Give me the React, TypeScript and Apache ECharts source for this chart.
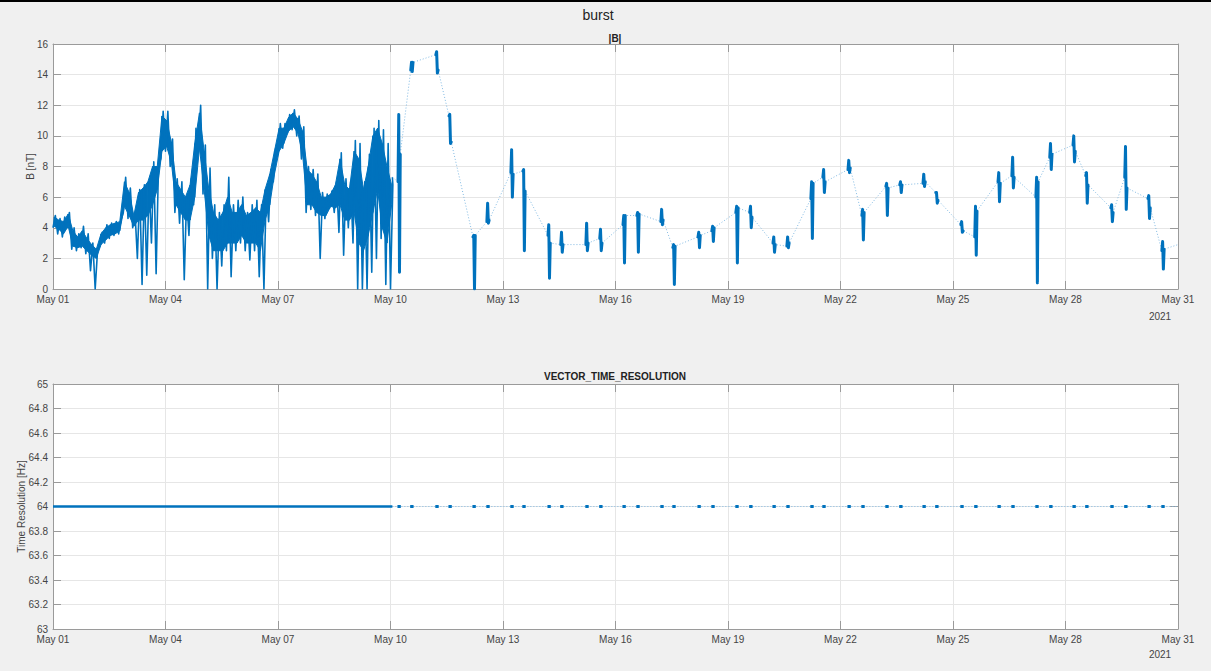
import React, { useEffect, useRef } from "react";
import * as echarts from "echarts";

// ---- Data (days of May 2021; 1.0 = May 01 00:00) ----
// Dense |B| record, May 01 00:00 to May 10 00:00, 3-hour samples [nT]
const denseStartDay = 1.0;
const denseStepDay = 0.125;
// full envelope of the noisy trace (spikes included)
const denseLow = [
  4.0, 3.6, 3.4, 4.0, 2.6, 2.5, 2.7, 2.3, 1.2, 0.0, 2.8, 3.0, 3.3, 3.5, 3.6, 5.0, 4.6, 4.0, 2.0, 0.3, 0.9, 3.0, 1.0, 8.5,
  9.0, 8.0, 5.0, 4.3, 0.6, 3.5, 5.5, 9.0, 6.2, 0.0, 2.0, 0.0, 1.5, 2.5, 0.8, 2.5, 3.0, 2.5, 1.9, 2.5, 0.8, 0.0, 4.4, 7.0, 8.8, 9.2,
  10.2, 10.4, 10.0, 8.5, 5.0, 5.2, 4.8, 2.0, 4.6, 5.3, 5.0, 3.7, 2.2, 4.0, 3.0, 0.0, 0.0, 0.0, 1.1, 2.0, 3.3, 0.3, 0.0,
];
const denseHigh = [
  4.8, 4.6, 4.7, 5.0, 4.0, 3.6, 4.1, 3.6, 3.0, 2.5, 3.7, 4.2, 4.3, 4.4, 4.5, 7.3, 6.6, 5.0, 6.5, 6.8, 7.0, 8.3, 8.0, 11.6,
  11.6, 9.8, 7.2, 7.0, 6.0, 7.2, 10.5, 12.0, 9.4, 7.9, 5.5, 5.0, 5.5, 7.3, 5.5, 5.8, 6.0, 5.0, 5.5, 5.8, 5.5, 6.5, 7.8, 9.2, 10.8, 10.8,
  11.4, 11.7, 11.3, 10.6, 8.0, 7.8, 7.5, 6.3, 6.2, 6.4, 7.0, 8.9, 7.2, 7.0, 9.7, 9.5, 7.0, 8.8, 10.5, 11.0, 10.4, 9.5, 6.8,
];
// solid core band of the trace
const coreLow = [
  4.1, 3.9, 3.6, 4.1, 2.8, 2.7, 2.8, 2.5, 2.2, 2.0, 2.9, 3.2, 3.5, 3.6, 3.8, 5.4, 4.8, 4.1, 4.5, 4.5, 4.8, 5.5, 6.5, 9.0,
  9.3, 8.3, 5.5, 5.0, 4.5, 4.5, 6.0, 9.2, 6.5, 3.5, 2.5, 2.5, 2.5, 3.0, 3.0, 3.0, 3.5, 3.0, 3.0, 3.0, 2.5, 4.5, 5.5, 7.5, 9.0, 9.5,
  10.3, 10.6, 10.2, 8.8, 5.5, 5.5, 5.0, 4.8, 4.8, 5.4, 5.3, 5.5, 4.5, 4.5, 5.0, 3.0, 2.5, 3.5, 5.0, 6.5, 4.0, 3.0, 5.5,
];
const coreHigh = [
  4.7, 4.5, 4.4, 4.9, 3.8, 3.4, 3.8, 3.3, 2.9, 2.6, 3.6, 4.0, 4.2, 4.3, 4.4, 7.0, 6.3, 4.8, 6.3, 6.6, 7.0, 8.0, 8.0, 11.3,
  11.0, 9.6, 7.0, 6.5, 6.0, 6.8, 9.5, 11.5, 9.0, 6.5, 5.0, 4.5, 5.0, 6.0, 5.0, 5.0, 5.5, 4.8, 5.0, 5.3, 5.0, 6.5, 7.5, 9.0, 10.5, 10.5,
  11.2, 11.5, 11.1, 10.3, 7.8, 7.5, 7.0, 6.0, 6.0, 6.2, 6.8, 8.5, 6.8, 6.5, 9.0, 8.5, 6.5, 8.0, 10.0, 10.5, 9.5, 8.0, 6.8,
];
const denseEndDay = 10.05;
const denseEndValue = 7.3;

// Burst segments after May 10
const burstDay = [
  10.23, 10.57, 11.24, 11.59, 12.23, 12.6, 13.24, 13.56, 14.23, 14.57, 15.24, 15.61, 16.23, 16.6, 17.24, 17.56, 18.23, 18.6, 19.24, 19.61, 20.23,
  20.6, 21.24, 21.56, 22.23, 22.6, 23.24, 23.61, 24.23, 24.57, 25.24, 25.61, 26.23, 26.6, 27.24, 27.61, 28.23, 28.57, 29.24, 29.61, 30.23, 30.6,
];
const burstLow = [
  1.1, 14.2, 14.1, 9.5, 0.0, 4.3, 6.0, 2.5, 0.7, 2.4, 2.5, 2.5, 1.7, 2.4, 4.2, 0.3, 2.7, 3.1, 1.7, 4.0, 2.4,
  2.7, 3.3, 6.3, 7.6, 3.2, 4.8, 6.3, 6.7, 5.6, 3.7, 2.2, 5.7, 6.6, 0.4, 7.8, 8.3, 5.6, 4.4, 5.2, 4.6, 1.3,
];
const burstHigh = [
  11.4, 14.8, 15.5, 11.4, 3.5, 5.6, 9.1, 7.8, 4.2, 3.7, 4.3, 3.9, 4.8, 5.0, 5.2, 2.9, 3.7, 4.1, 5.4, 5.4, 3.4,
  3.4, 7.0, 7.8, 8.4, 5.2, 6.9, 7.0, 7.5, 6.3, 4.4, 5.4, 7.6, 8.6, 7.3, 9.5, 10.0, 7.6, 5.5, 9.3, 6.1, 3.1,
];
const burstIn = [
  7.0, 14.3, 15.3, 11.3, 3.4, 4.4, 7.6, 7.7, 3.5, 2.9, 2.9, 3.3, 4.2, 4.8, 4.4, 2.7, 3.4, 3.8, 5.0, 5.0, 3.0,
  2.8, 5.9, 7.3, 7.8, 4.8, 6.7, 6.8, 6.9, 6.3, 4.2, 3.4, 7.0, 7.4, 6.0, 8.6, 9.4, 7.4, 5.3, 7.3, 5.9, 2.5,
];
const burstOut = [
  8.8, 14.8, 14.3, 9.6, 3.5, 4.5, 7.5, 6.4, 3.0, 2.9, 3.0, 3.0, 4.8, 4.9, 4.5, 2.8, 3.5, 4.0, 5.3, 4.7, 2.9,
  3.0, 6.9, 7.0, 7.9, 5.0, 6.6, 6.8, 7.0, 5.8, 3.8, 5.1, 6.9, 7.3, 7.0, 8.8, 9.0, 6.8, 5.0, 6.6, 5.3, 2.6,
];
const edgeDay = 31.0;
const edgeValue = 2.9;

// Vector time resolution [Hz]
const denseResolution = 64;
const burstResolution = [
  64, 64, 64, 64, 64, 64, 64, 64, 64, 64, 64, 64, 64, 64, 64, 64, 64, 64, 64, 64, 64,
  64, 64, 64, 64, 64, 64, 64, 64, 64, 64, 64, 64, 64, 64, 64, 64, 64, 64, 64, 64, 64,
];

// Axis ticks
const xTickLabels = ["May 01", "May 04", "May 07", "May 10", "May 13", "May 16", "May 19", "May 22", "May 25", "May 28", "May 31"];
const yearLabel = "2021";

const BLUE = "#0072BD";
const LINK = "#80b9e2";
const AXIS = "#9a9a9a";
const LABEL = "#444444";
const GRIDLINE = "#e6e6e6";
const FONT = "Liberation Sans, Arial, Helvetica, sans-serif";

const toX = (day: number) => day - 1;

export default function App() {
  const ref = useRef<HTMLDivElement>(null);
  useEffect(() => {
    if (!ref.current) return;
    const chart = echarts.init(ref.current, null, { renderer: "svg" });

    const dense: number[][] = [];
    denseLow.forEach((lo, k) => {
      const t = denseStartDay + k * denseStepDay;
      dense.push([toX(t), lo]);
      dense.push([toX(t + denseStepDay / 2), denseHigh[k]]);
    });
    dense.push([toX(denseEndDay), denseEndValue]);

    // core band quads: [x0, lo0, hi0, x1, lo1, hi1]
    const coreQuads: number[][] = [];
    for (let k = 0; k < coreLow.length - 1; k++) {
      const x0 = toX(denseStartDay + k * denseStepDay + 0.03);
      const x1 = toX(denseStartDay + (k + 1) * denseStepDay + 0.03);
      coreQuads.push([x0, coreLow[k], coreHigh[k], x1, coreLow[k + 1], coreHigh[k + 1]]);
    }

    const link: number[][] = [[toX(denseEndDay), denseEndValue]];
    burstDay.forEach((t, i) => {
      link.push([toX(t - 0.03), burstIn[i]]);
      link.push([toX(t + 0.03), burstOut[i]]);
    });
    link.push([toX(edgeDay), edgeValue]);

    const bursts = burstDay.map((t, i) => ({
      coords: [
        [toX(t - 0.03), burstIn[i]],
        [toX(t - 0.01), burstHigh[i]],
        [toX(t + 0.01), burstLow[i]],
        [toX(t + 0.03), burstOut[i]],
      ],
    }));

    const resDots = burstDay.map((t, i) => ({
      coords: [
        [toX(t - 0.045), burstResolution[i]],
        [toX(t + 0.045), burstResolution[i]],
      ],
    }));

    const xAxisBase = (gridIndex: number, position: string, labels: boolean) => ({
      type: "value",
      gridIndex,
      position,
      min: 0,
      max: 30,
      interval: 3,
      axisLine: { show: true, onZero: false, lineStyle: { color: AXIS, width: 1 } },
      axisTick: { show: true, inside: true, length: 8, lineStyle: { color: AXIS } },
      axisLabel: labels
        ? {
            show: true,
            margin: 5,
            fontSize: 10,
            color: LABEL,
            fontFamily: FONT,
            formatter: (v: number) => xTickLabels[Math.round(v / 3)] ?? "",
          }
        : { show: false },
      splitLine: labels ? { show: true, lineStyle: { color: GRIDLINE, width: 1 } } : { show: false },
    });

    const yAxisBase = (
      gridIndex: number,
      position: string,
      min: number,
      max: number,
      interval: number,
      name: string,
      nameGap: number,
      labels: boolean
    ) => ({
      type: "value",
      gridIndex,
      position,
      min,
      max,
      interval,
      name: labels ? name : "",
      nameLocation: "middle",
      nameGap,
      nameMoveOverlap: false,
      nameTextStyle: { fontSize: 10, color: LABEL, fontFamily: FONT },
      axisLine: { show: true, onZero: false, lineStyle: { color: AXIS, width: 1 } },
      axisTick: { show: true, inside: true, length: 8, lineStyle: { color: AXIS } },
      axisLabel: labels
        ? {
            show: true,
            margin: 5,
            fontSize: 10,
            color: LABEL,
            fontFamily: FONT,
            formatter: (v: number) => String(parseFloat(v.toFixed(1))),
          }
        : { show: false },
      splitLine: labels ? { show: true, lineStyle: { color: GRIDLINE, width: 1 } } : { show: false },
    });

    chart.setOption({
      animation: false,
      backgroundColor: "#f0f0f0",
      textStyle: { fontFamily: FONT },
      grid: [
        { left: 53, top: 44, width: 1125, height: 245, show: true, backgroundColor: "#ffffff", borderWidth: 0 },
        { left: 53, top: 384, width: 1125, height: 245, show: true, backgroundColor: "#ffffff", borderWidth: 0 },
      ],
      xAxis: [xAxisBase(0, "bottom", true), xAxisBase(0, "top", false), xAxisBase(1, "bottom", true), xAxisBase(1, "top", false)],
      yAxis: [
        yAxisBase(0, "left", 0, 16, 2, "B [nT]", 18, true),
        yAxisBase(0, "right", 0, 16, 2, "", 0, false),
        yAxisBase(1, "left", 63, 65, 0.2, "Time Resolution [Hz]", 27, true),
        yAxisBase(1, "right", 63, 65, 0.2, "", 0, false),
      ],
      series: [
        {
          type: "line",
          xAxisIndex: 0,
          yAxisIndex: 0,
          data: link,
          symbol: "none",
          lineStyle: { color: LINK, width: 1, type: [1, 2] },
          z: 1,
        },
        {
          type: "custom",
          xAxisIndex: 0,
          yAxisIndex: 0,
          data: coreQuads,
          encode: { x: [0, 3], y: [1, 2, 4, 5] },
          renderItem: (_params: any, api: any) => {
            const a = api.coord([api.value(0), api.value(1)]);
            const b = api.coord([api.value(3), api.value(4)]);
            const c = api.coord([api.value(3), api.value(5)]);
            const d = api.coord([api.value(0), api.value(2)]);
            return {
              type: "polygon",
              shape: { points: [a, b, c, d] },
              style: { fill: BLUE, stroke: BLUE, lineWidth: 1 },
            };
          },
          z: 2,
        },
        {
          type: "line",
          xAxisIndex: 0,
          yAxisIndex: 0,
          data: dense,
          symbol: "none",
          lineStyle: { color: BLUE, width: 1.6, join: "round" },
          z: 3,
        },
        {
          type: "lines",
          coordinateSystem: "cartesian2d",
          xAxisIndex: 0,
          yAxisIndex: 0,
          polyline: true,
          data: bursts,
          lineStyle: { color: BLUE, width: 3, opacity: 1, cap: "round", join: "round" },
          z: 3,
        },
        {
          type: "line",
          xAxisIndex: 2,
          yAxisIndex: 2,
          data: [
            [toX(denseEndDay), denseResolution],
            [toX(edgeDay), denseResolution],
          ],
          symbol: "none",
          lineStyle: { color: LINK, width: 1, type: [1, 2] },
          z: 1,
        },
        {
          type: "line",
          xAxisIndex: 2,
          yAxisIndex: 2,
          data: [
            [toX(denseStartDay), denseResolution],
            [toX(denseEndDay), denseResolution],
          ],
          symbol: "none",
          lineStyle: { color: BLUE, width: 2.5 },
          z: 2,
        },
        {
          type: "lines",
          coordinateSystem: "cartesian2d",
          xAxisIndex: 2,
          yAxisIndex: 2,
          polyline: true,
          data: resDots,
          lineStyle: { color: BLUE, width: 3, opacity: 1 },
          z: 3,
        },
      ],
      graphic: [
        { type: "rect", left: 0, top: 0, shape: { width: 1211, height: 2 }, style: { fill: "#000000" }, z: 100 },
        {
          type: "text",
          x: 598,
          y: 15,
          style: { text: "burst", fontSize: 14, fill: "#222222", fontFamily: FONT, align: "center", verticalAlign: "middle" },
        },
        {
          type: "text",
          x: 615,
          y: 38,
          style: { text: "|B|", fontSize: 10, fontWeight: "bold", fill: "#222222", fontFamily: FONT, align: "center", verticalAlign: "middle" },
        },
        {
          type: "text",
          x: 615,
          y: 376,
          style: {
            text: "VECTOR_TIME_RESOLUTION",
            fontSize: 10,
            fontWeight: "bold",
            fill: "#222222",
            fontFamily: FONT,
            align: "center",
            verticalAlign: "middle",
          },
        },
        {
          type: "text",
          x: 1160,
          y: 316,
          style: { text: yearLabel, fontSize: 10, fill: LABEL, fontFamily: FONT, align: "center", verticalAlign: "middle" },
        },
        {
          type: "text",
          x: 1160,
          y: 654,
          style: { text: yearLabel, fontSize: 10, fill: LABEL, fontFamily: FONT, align: "center", verticalAlign: "middle" },
        },
      ],
    });

    return () => chart.dispose();
  }, []);

  return <div ref={ref} style={{ position: "fixed", left: 0, top: 0, width: 1211, height: 671 }} />;
}
